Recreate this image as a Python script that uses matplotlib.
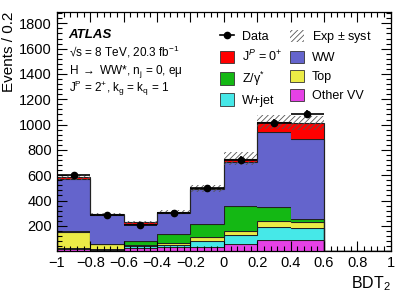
import numpy as np
import matplotlib
matplotlib.use('Agg')
import matplotlib.pyplot as plt
from matplotlib.patches import Patch
from matplotlib.lines import Line2D
from matplotlib.ticker import MultipleLocator, FuncFormatter

plt.rcParams['font.family'] = ['Liberation Sans', 'DejaVu Sans']
plt.rcParams['mathtext.fontset'] = 'custom'
plt.rcParams['mathtext.rm'] = 'Liberation Sans'
plt.rcParams['mathtext.it'] = 'Liberation Sans:italic'
plt.rcParams['mathtext.bf'] = 'Liberation Sans:bold'
plt.rcParams['hatch.linewidth'] = 0.6

edges = np.round(np.arange(-1.0, 1.01, 0.2), 2)

# yields per bin (bins of 0.2 in BDT2)
other_vv = [16, 10, 25, 34, 34, 55, 87, 84, 0, 0]
wjet = [10, 8, 13, 16, 47, 70, 105, 95, 0, 0]
top = [124, 35, 10, 18, 27, 34, 45, 52, 0, 0]
zgamma = [8, 5, 30, 71, 105, 200, 108, 20, 0, 0]
ww = [411, 227, 140, 161, 274, 342, 597, 637, 0, 0]
sig0 = [16, 5, 10, 10, 8, 30, 75, 122, 0, 0]
syst = [20, 12, 12, 15, 30, 50, 55, 55, 0, 0]
data = [600, 287, 210, 305, 498, 724, 1014, 1082]

fig = plt.figure(figsize=(4.07, 2.92), dpi=100)
ax = fig.add_axes([0.14, 0.14, 0.82, 0.819])

comps = [(other_vv, '#e641e6', 'Other VV'),
         (wjet, '#46e8e8', 'W+jet'),
         (top, '#ebeb46', 'Top'),
         (zgamma, '#14b814', 'Z/γ$^{*}$'),
         (ww, '#6464cc', 'WW'),
         (sig0, '#ff0000', r'J$^{P}$ = 0$^{+}$')]

base = np.zeros(10)
handles = {}
for vals, col, lab in comps:
    vals = np.array(vals, float)
    ax.stairs(base + vals, edges, baseline=base, fill=True, color=col, lw=0)
    ax.stairs(base + vals, edges, color='#222222', lw=0.8)
    handles[lab] = Patch(facecolor=col, edgecolor='#333333', lw=0.6, label=lab)
    base = base + vals
total = base

# systematic band
centers = 0.5 * (edges[1:] + edges[:-1])
err = np.array(syst, float)
ax.bar(centers, 2 * err, width=0.2, bottom=total - err, fill=False,
       hatch='//////', edgecolor='#555555', lw=0)

# data
data = np.array(data, float)
ax.errorbar(centers[:8], data, xerr=0.1, yerr=np.sqrt(data), fmt='o',
            color='black', ms=4.5, lw=1.2, capsize=0)

ax.set_xlim(-1, 1)
ax.set_ylim(0, 1890)
ax.set_yticks(np.arange(200, 1801, 200))
ax.xaxis.set_major_locator(MultipleLocator(0.2))
ax.xaxis.set_minor_locator(MultipleLocator(0.04))
ax.yaxis.set_minor_locator(MultipleLocator(40))
ax.tick_params(which='both', direction='in', top=True, right=True, labelsize=10.5)
ax.tick_params(which='major', length=7, width=0.8)
ax.tick_params(which='minor', length=3.5, width=0.8)
ax.xaxis.set_major_formatter(FuncFormatter(lambda v, p: ('%g' % round(v, 2)).replace('-', '\u2212')))
for s in ax.spines.values():
    s.set_linewidth(0.9)

ax.set_ylabel('Events / 0.2', fontsize=11, loc='top', labelpad=2)
ax.set_xlabel(r'BDT$_{2}$', fontsize=11.5, loc='right', labelpad=3)

ax.text(0.035, 0.89, 'ATLAS', transform=ax.transAxes, fontsize=9.5,
        fontweight='bold', style='italic')
ax.text(0.035, 0.815, '\u221as = 8 TeV, 20.3 fb$^{-1}$', transform=ax.transAxes, fontsize=8.5)
ax.text(0.035, 0.74, 'H $\\rightarrow$ WW*, n$_{\\rm j}$ = 0, eμ', transform=ax.transAxes, fontsize=8.5)
ax.text(0.035, 0.665, r'J$^{\rm P}$ = 2$^{+}$, k$_{\rm g}$ = k$_{\rm q}$ = 1', transform=ax.transAxes, fontsize=8.5)

h_data = Line2D([], [], color='black', marker='o', ms=4.5, lw=1.2, label='Data')
h_syst = Patch(facecolor='white', edgecolor='#555555', hatch='//////', lw=0, label=r'Exp $\pm$ syst')
order = [h_data, handles[r'J$^{P}$ = 0$^{+}$'], handles['Z/γ$^{*}$'], handles['W+jet'],
         h_syst, handles['WW'], handles['Top'], handles['Other VV']]
ax.legend(handles=order, ncol=2, loc='upper left', bbox_to_anchor=(0.455, 0.975),
          frameon=False, fontsize=9, handlelength=1.15, handleheight=1.15,
          labelspacing=0.45, columnspacing=0.6, handletextpad=0.6)

fig.savefig('out.png', dpi=100)
